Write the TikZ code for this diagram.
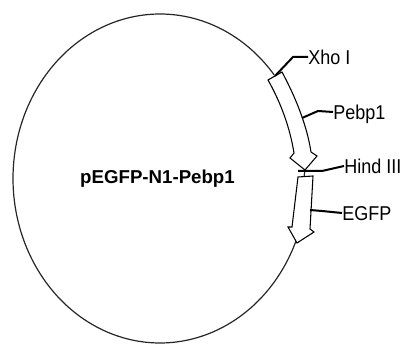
\documentclass[tikz,border=0pt]{standalone}
\usepackage{fontspec}
\setmainfont{Liberation Sans}
\newfontfamily\labfont[FakeStretch=0.9]{Liberation Sans}
\begin{document}
\begin{tikzpicture}[x=0.75pt,y=-0.75pt,
  outl/.style={draw=black,line width=0.8pt,line join=miter,fill=white},
  lead/.style={draw=black,line width=1.5pt},
  ring/.style={draw=black!85,line width=0.9pt},
  lab/.style={anchor=west,inner sep=0pt,text height=10.7pt,text depth=0pt,font=\labfont\fontsize{15}{17}\selectfont}]
\useasboundingbox (0,0) rectangle (403,345);
% plasmid ring
\draw[ring] plot[domain=22.3:321,samples=220] ({160+147*cos(\x)},{178.5+164.5*sin(\x)});
% Pebp1 arrow
\draw[outl] (268,80) -- (282,72) .. controls (296,98) and (307,126) .. (311,152)
  -- (317,156) -- (305,170) -- (290,158) -- (294,153)
  .. controls (290,128) and (281,103) .. (268,80) -- cycle;
% junction
\draw[ring] (305,170) -- (304,177);
% EGFP arrow
\draw[outl] (298,177) -- (313,176) -- (310,229) -- (314,232) -- (297,243)
  -- (288,227) -- (292,227) -- cycle;
% label nodes
\node[lab] (xho) at (308,57) {Xho I};
\node[lab] (pebp) at (333,112) {Pebp1};
\node[lab] (hind) at (344,166) {Hind III};
\node[lab] (egfp) at (342,213) {EGFP};
\node[anchor=base,inner sep=0pt,font=\bfseries\fontsize{14}{16}\selectfont] (title) at (157.5,183.5) {pEGFP-N1-Pebp1};
% leader anchors
\coordinate (xa) at (275,76);
\coordinate (pa) at (302,118);
\coordinate (ha) at (298,171);
\coordinate (ea) at (310,210);
\draw[lead] (xa) -- ++(18,-19) -- (xho.west);
\draw[lead] (pa) -- ++(16,-7) -- (pebp.west);
\draw[lead] (ha) -- ++(24,0) -- (hind.west);
\draw[lead] (ea) -- ++(12,1) -- (egfp.west);
\end{tikzpicture}
\end{document}
